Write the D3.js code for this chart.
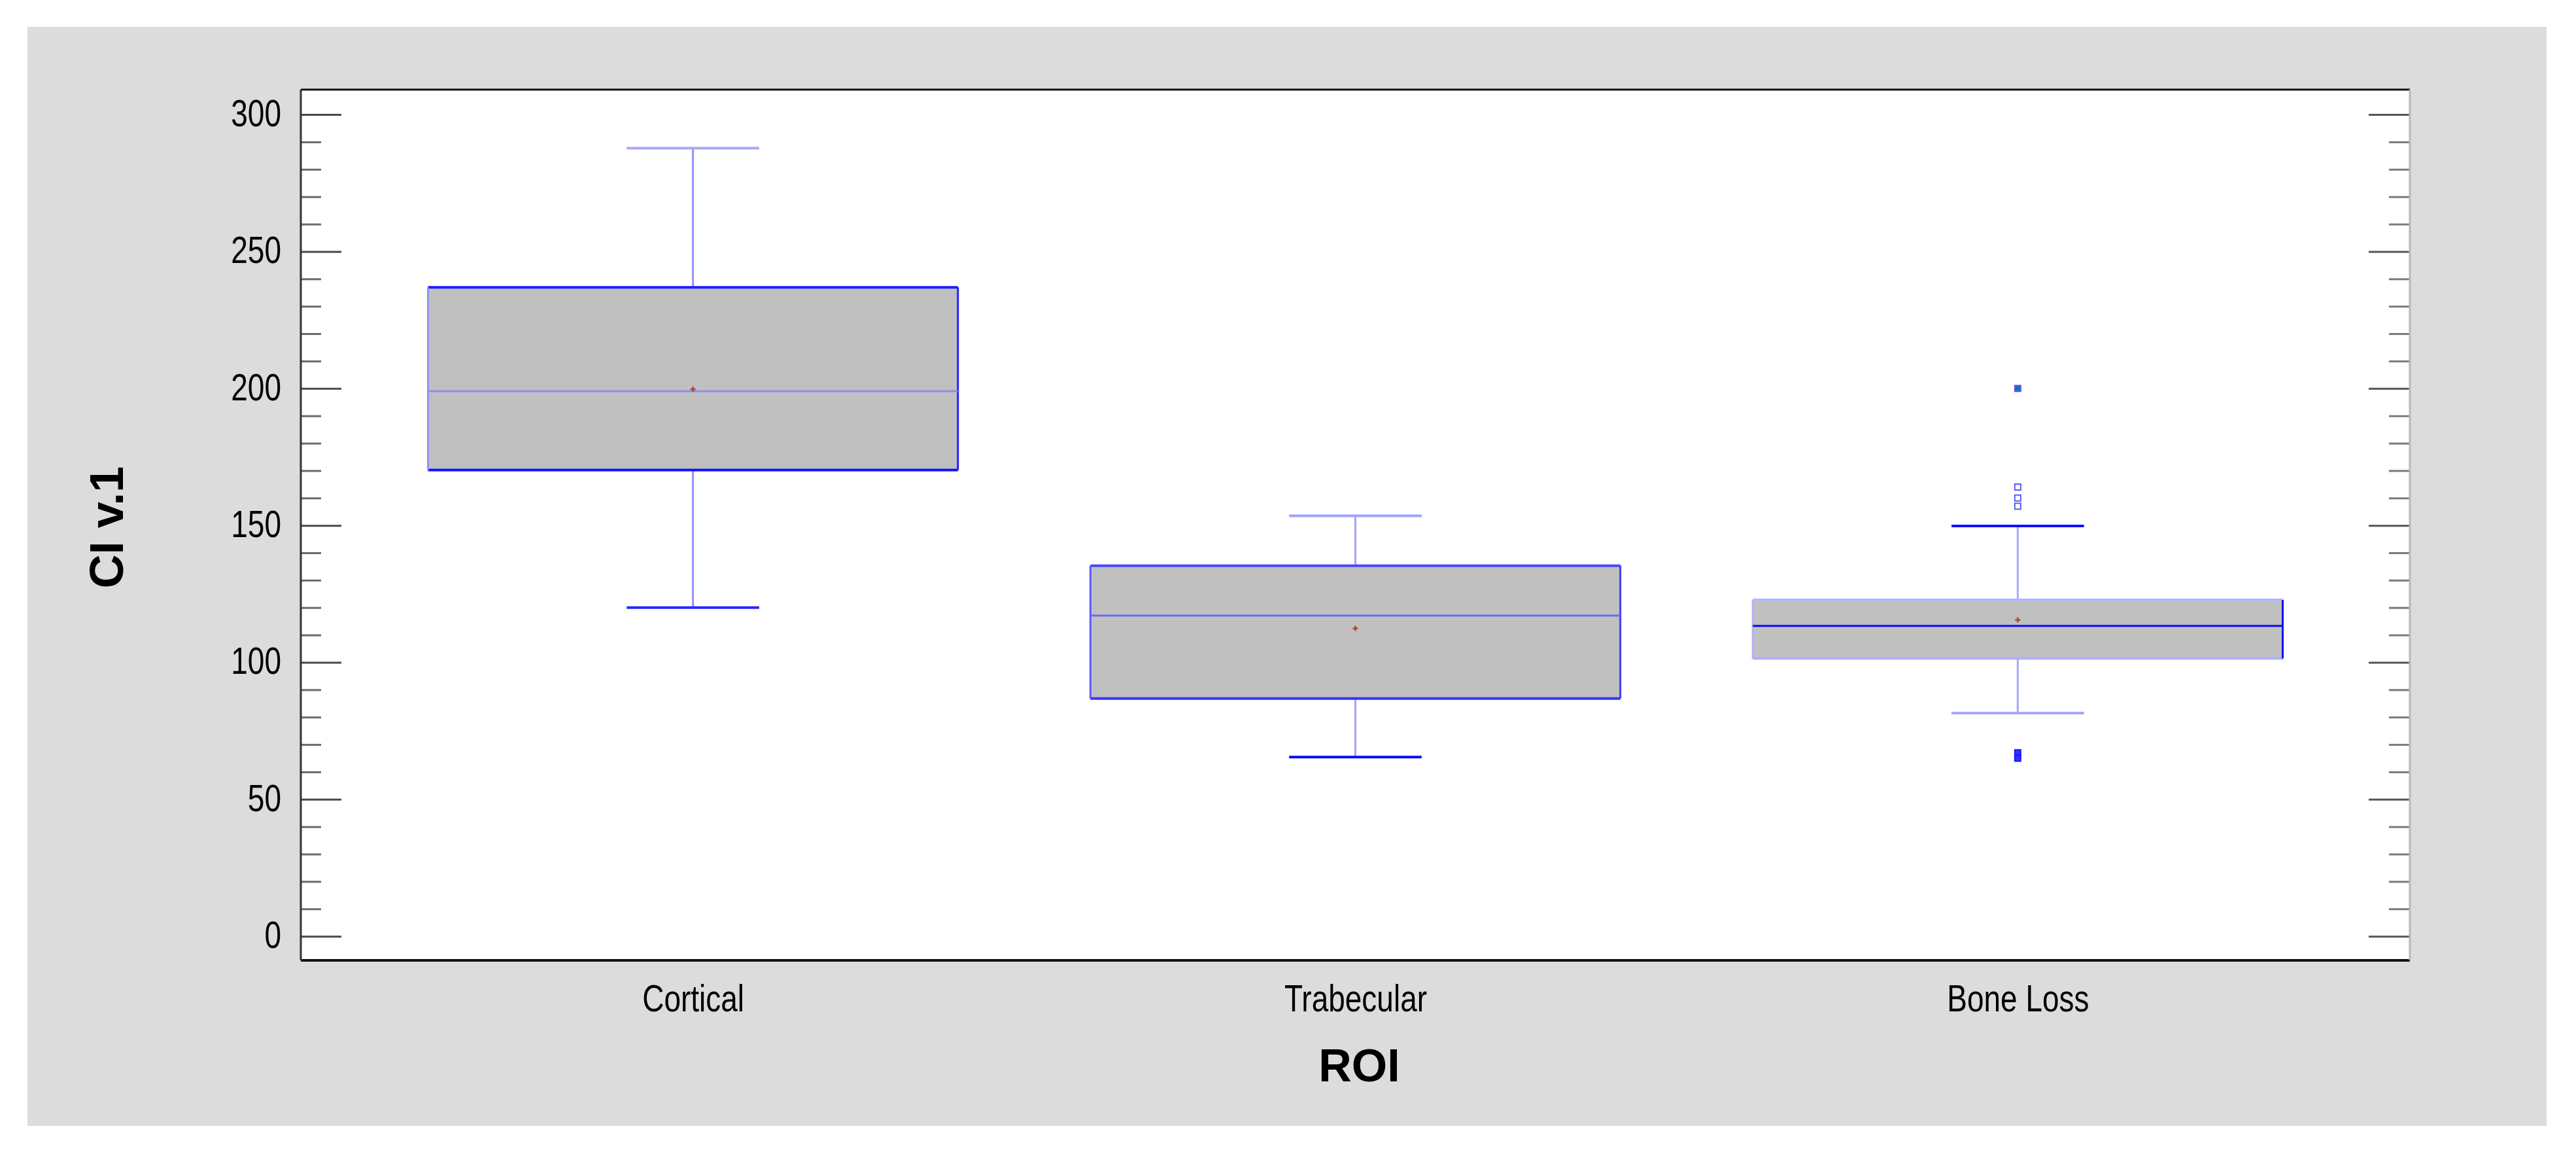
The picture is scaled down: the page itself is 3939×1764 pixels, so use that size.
<!DOCTYPE html>
<html>
<head>
<meta charset="utf-8">
<script src="https://cdn.jsdelivr.net/npm/d3@7"></script>
<style>
  html, body { margin: 0; padding: 0; background: #ffffff; }
  svg { display: block; }
  text { font-family: "Liberation Sans", Arial, sans-serif; fill: #000; }
</style>
</head>
<body>
<svg id="chart" width="3939" height="1764"></svg>
<script>
// ---- Box-and-whisker summary for CI v.1 by region of interest ----
const categories   = ["Cortical", "Trabecular", "Bone Loss"];
const whiskerLow   = [120.0, 65.4, 81.5];
const quartile1    = [170.2, 86.8, 101.4];
const medians      = [199.0, 117.1, 113.3];
const means        = [199.7, 112.4, 115.5];
const quartile3    = [236.9, 135.3, 122.8];
const whiskerHigh  = [287.7, 153.5, 149.8];
const outlierVals  = [[], [], [200, 164, 160, 157, 67, 65]];

const yMajorTicks  = [0, 50, 100, 150, 200, 250, 300];
const yMinorTicks  = d3.range(10, 300, 10).filter(v => v % 50 !== 0);

const xTitle = "ROI";
const yTitle = "CI v.1";

// ---- stroke colours of each box's parts ----
const boxStyles = {
  "Cortical":   { top: "#1c1cff", bottom: "#1010ff", left: "#9494ee", right: "#2020ff",
                  median: "#8e8ee8", whisker: "#9090ff", capHigh: "#a8a8ff", capLow: "#2626ff" },
  "Trabecular": { top: "#4848ff", bottom: "#3434ff", left: "#5a5aff", right: "#4040ff",
                  median: "#6a6af0", whisker: "#a4a4ff", capHigh: "#a0a0ff", capLow: "#0a0aff" },
  "Bone Loss":  { top: "#b4b4ff", bottom: "#b0b0ff", left: "#b4b4ff", right: "#1010ff",
                  median: "#0808ff", whisker: "#a8a8ff", capHigh: "#1010ff", capLow: "#a8a8ff" }
};

const svg = d3.select("#chart");

// panel and plot frame geometry
const panel = { x0: 42, y0: 41, x1: 3894, y1: 1721 };
const plot  = { left: 460, right: 3685, top: 137, bottom: 1468 };

svg.append("rect")
  .attr("x", panel.x0).attr("y", panel.y0)
  .attr("width", panel.x1 - panel.x0).attr("height", panel.y1 - panel.y0)
  .attr("fill", "#dcdcdc");

svg.append("rect")
  .attr("x", plot.left).attr("y", plot.top)
  .attr("width", plot.right - plot.left).attr("height", plot.bottom - plot.top)
  .attr("fill", "#ffffff");

// scales
const x = d3.scalePoint()
  .domain(categories)
  .range([plot.left, plot.right])
  .padding(0.592);

const y = d3.scaleLinear()
  .domain([-8.8, 309.1])
  .range([plot.bottom, plot.top]);

const step = x.step();
const boxW = step * 0.8;
const capW = boxW * 0.25;

// ---- axes: ticks point inward from both vertical frame edges ----
function styleTicks(g, color) {
  g.select(".domain").remove();
  g.selectAll(".tick line").attr("stroke", color).attr("stroke-width", 3);
}

svg.append("g")
  .attr("transform", `translate(${plot.left},0)`)
  .call(d3.axisLeft(y).tickValues(yMinorTicks).tickSize(-31).tickFormat(""))
  .call(g => styleTicks(g, "#6a6a6a"));

const yAxis = svg.append("g")
  .attr("transform", `translate(${plot.left},0)`)
  .call(d3.axisLeft(y).tickValues(yMajorTicks).tickSize(-62).tickPadding(30).tickFormat(d3.format("d")))
  .call(g => styleTicks(g, "#4a4a4a"));

yAxis.selectAll(".tick text")
  .attr("font-size", 46)
  .attr("font-family", "'Liberation Sans', Arial, sans-serif")
  .attr("fill", "#000")
  .attr("dy", "0.30em")
  .attr("transform", "scale(1,1.25)");

svg.append("g")
  .attr("transform", `translate(${plot.right},0)`)
  .call(d3.axisRight(y).tickValues(yMinorTicks).tickSize(-32).tickFormat(""))
  .call(g => styleTicks(g, "#7a7a7a"));

svg.append("g")
  .attr("transform", `translate(${plot.right},0)`)
  .call(d3.axisRight(y).tickValues(yMajorTicks).tickSize(-63).tickFormat(""))
  .call(g => styleTicks(g, "#555555"));

const xAxis = svg.append("g")
  .attr("transform", `translate(0,${plot.bottom})`)
  .call(d3.axisBottom(x).tickSize(0));
xAxis.select(".domain").remove();
xAxis.selectAll(".tick text")
  .attr("y", 0).attr("dy", 0)
  .attr("font-size", 46)
  .attr("font-family", "'Liberation Sans', Arial, sans-serif")
  .attr("fill", "#000")
  .attr("transform", "translate(0,78) scale(1,1.25)");

// ---- frame edges ----
const frame = svg.append("g").attr("stroke-width", 3);
frame.append("line").attr("x1", plot.left).attr("x2", plot.right).attr("y1", plot.top).attr("y2", plot.top).attr("stroke", "#111");
frame.append("line").attr("x1", plot.left).attr("x2", plot.right).attr("y1", plot.bottom).attr("y2", plot.bottom).attr("stroke", "#111").attr("stroke-width", 4);
frame.append("line").attr("x1", plot.left).attr("x2", plot.left).attr("y1", plot.top).attr("y2", plot.bottom).attr("stroke", "#333");
frame.append("line").attr("x1", plot.right).attr("x2", plot.right).attr("y1", plot.top).attr("y2", plot.bottom).attr("stroke", "#b8b8b8");

// ---- boxes ----
const rows = categories.map((c, i) => ({
  cat: c, lo: whiskerLow[i], q1: quartile1[i], med: medians[i], mean: means[i],
  q3: quartile3[i], hi: whiskerHigh[i], out: outlierVals[i], style: boxStyles[c]
}));

const boxes = svg.append("g").selectAll("g").data(rows).join("g");

function hline(sel, x1, x2, yv, color, w) {
  sel.append("line").attr("x1", x1).attr("x2", x2).attr("y1", yv).attr("y2", yv)
    .attr("stroke", color).attr("stroke-width", w);
}
function vline(sel, xv, y1, y2, color, w) {
  sel.append("line").attr("x1", xv).attr("x2", xv).attr("y1", y1).attr("y2", y2)
    .attr("stroke", color).attr("stroke-width", w);
}

boxes.each(function (d) {
  const g = d3.select(this);
  const cx = x(d.cat), s = d.style;
  const xl = cx - boxW / 2, xr = cx + boxW / 2;

  // whiskers
  vline(g, cx, y(d.hi), y(d.q3), s.whisker, 3);
  vline(g, cx, y(d.q1), y(d.lo), s.whisker, 3);
  hline(g, cx - capW / 2, cx + capW / 2, y(d.hi), s.capHigh, 4);
  hline(g, cx - capW / 2, cx + capW / 2, y(d.lo), s.capLow, 4);

  // interquartile box
  g.append("rect")
    .attr("x", xl).attr("y", y(d.q3))
    .attr("width", boxW).attr("height", y(d.q1) - y(d.q3))
    .attr("fill", "#c0c0c0");
  hline(g, xl, xr, y(d.q3), s.top, 4);
  hline(g, xl, xr, y(d.q1), s.bottom, 4);
  vline(g, xl, y(d.q3), y(d.q1), s.left, 3);
  vline(g, xr, y(d.q3), y(d.q1), s.right, 3);

  // median
  hline(g, xl, xr, y(d.med), s.median, 3);

  // mean marker
  const my = y(d.mean);
  g.append("path")
    .attr("d", `M${cx - 4},${my}H${cx + 4}M${cx},${my - 4}V${my + 4}`)
    .attr("stroke", "#b5461c").attr("stroke-width", 2.5).attr("fill", "none");

  // outside points; points past 3 IQR are drawn filled
  const iqr = d.q3 - d.q1;
  g.selectAll("rect.outlier").data(d.out).join("rect")
    .attr("class", "outlier")
    .attr("x", cx - 4.5).attr("y", v => y(v) - 4.5)
    .attr("width", 9).attr("height", 9)
    .attr("fill", v => (v > d.q3 + 3 * iqr || v < d.q1 - 3 * iqr) ? "#1f6e9e" : (v < d.q1 ? "#3030ff" : "#ffffff"))
    .attr("stroke", v => v < d.q1 ? "#1a1aff" : "#5a5aff").attr("stroke-width", 2);
});

// ---- axis titles ----
svg.append("text")
  .attr("x", (plot.left + plot.right) / 2 + 6)
  .attr("y", 1653)
  .attr("text-anchor", "middle")
  .attr("font-size", 70)
  .attr("font-weight", "bold")
  .text(xTitle);

svg.append("text")
  .attr("transform", `translate(188,806) rotate(-90)`)
  .attr("text-anchor", "middle")
  .attr("font-size", 72)
  .attr("font-weight", "bold")
  .text(yTitle);
</script>
</body>
</html>
